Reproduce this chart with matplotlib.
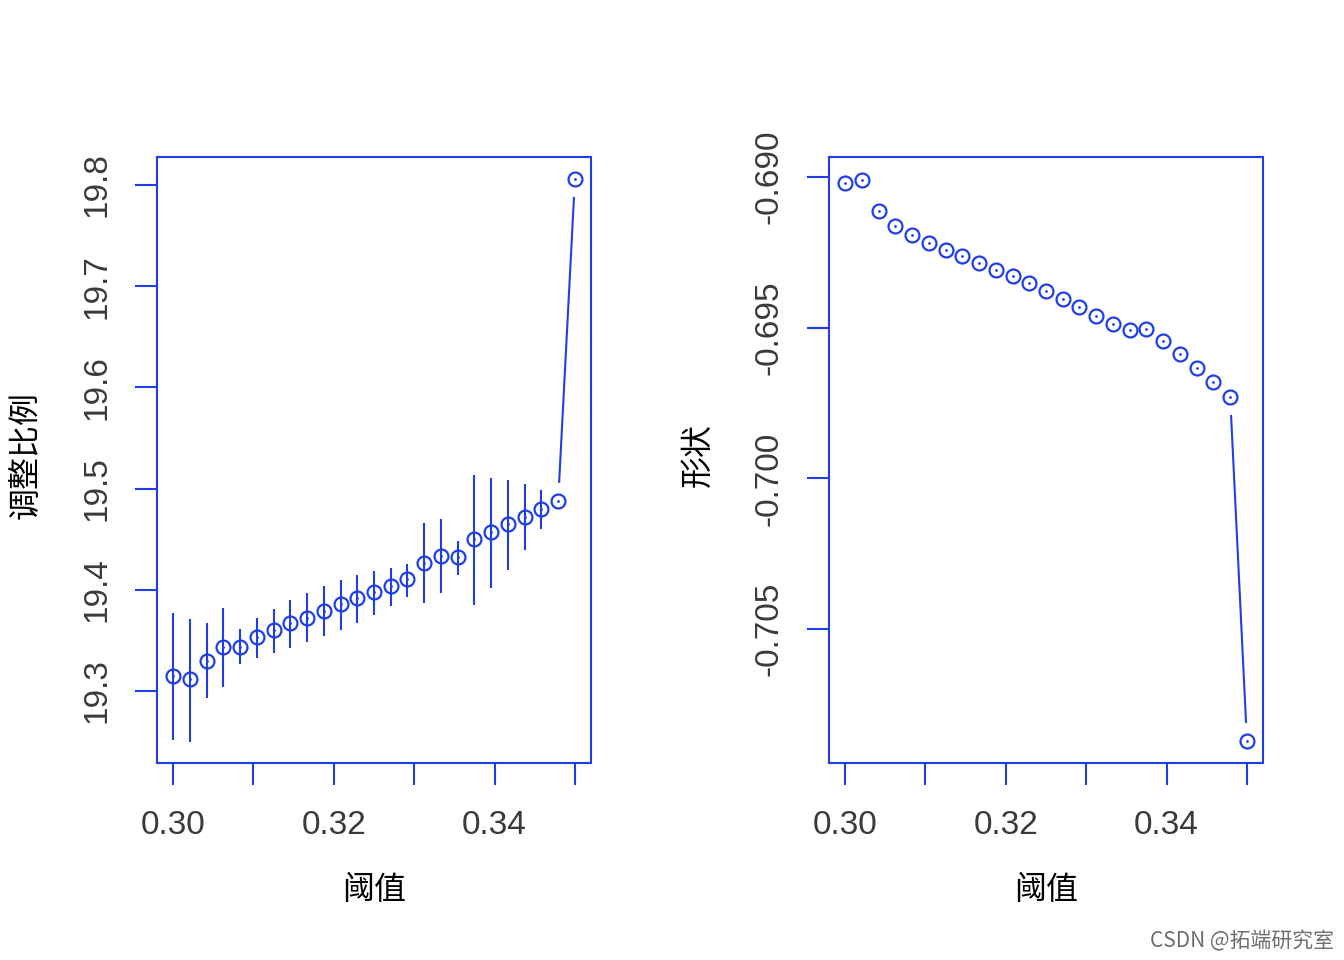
import numpy as np
import matplotlib
matplotlib.use("Agg")
import matplotlib.pyplot as plt

# thresholds: 25 values from 0.30 to 0.35
threshold = np.linspace(0.30, 0.35, 25)

# adjusted scale (调整比例) with confidence bounds
scale = [19.315, 19.312, 19.330, 19.344, 19.344, 19.353, 19.360, 19.367, 19.372,
         19.379, 19.386, 19.392, 19.398, 19.404, 19.411, 19.427, 19.433, 19.432,
         19.450, 19.457, 19.465, 19.472, 19.480, 19.488, 19.806]
scale_low = [19.252, 19.250, 19.293, 19.304, 19.327, 19.333, 19.338, 19.343, 19.348,
             19.354, 19.360, 19.367, 19.375, 19.384, 19.393, 19.387, 19.397, 19.415,
             19.385, 19.402, 19.420, 19.439, 19.460, np.nan, np.nan]
scale_high = [19.377, 19.371, 19.367, 19.382, 19.361, 19.372, 19.381, 19.390, 19.397,
              19.404, 19.410, 19.415, 19.419, 19.422, 19.426, 19.466, 19.470, 19.448,
              19.513, 19.511, 19.509, 19.505, 19.499, np.nan, np.nan]

# shape (形状)
shape = [-0.69019, -0.69010, -0.69112, -0.69163, -0.69192, -0.69219, -0.69241,
         -0.69264, -0.69285, -0.69309, -0.69328, -0.69352, -0.69378, -0.69405,
         -0.69430, -0.69460, -0.69487, -0.69508, -0.69504, -0.69543, -0.69586,
         -0.69634, -0.69680, -0.69730, -0.70871]

blue = "#1f3ee6"
tick_col = "#3a3a3a"
cjk = ["Noto Sans CJK SC", "DejaVu Sans"]

plt.rcParams["font.family"] = ["Liberation Sans", "DejaVu Sans"]

fig = plt.figure(figsize=(13.44, 9.6), dpi=100)
fig.patch.set_facecolor("white")


def gap_lines(ax, x, y, gap=19):
    # R style type="b": connect points but leave a gap round each one
    pts = ax.transData.transform(np.column_stack([x, y]))
    inv = ax.transData.inverted()
    for p1, p2 in zip(pts[:-1], pts[1:]):
        d = p2 - p1
        L = np.hypot(*d)
        if L <= 2 * gap:
            continue
        a = inv.transform(p1 + d / L * gap)
        b = inv.transform(p2 - d / L * gap)
        ax.plot([a[0], b[0]], [a[1], b[1]], color=blue, lw=1.5, zorder=2)


def style(ax, xlab, ylab, yticks, yfmt):
    ax.set_xlim(0.298, 0.352)
    for s in ax.spines.values():
        s.set_color(blue)
        s.set_linewidth(1.5)
    ax.set_xticks([0.30, 0.31, 0.32, 0.33, 0.34, 0.35])
    ax.set_xticklabels(["0.30", "", "0.32", "", "0.34", ""])
    ax.set_yticks(yticks)
    ax.set_yticklabels([yfmt % v for v in yticks], rotation=90, va="center")
    ax.tick_params(direction="out", length=16, width=1.5, color=blue,
                   labelsize=24, labelcolor=tick_col)
    ax.tick_params(axis="x", pad=18)
    ax.tick_params(axis="y", pad=16)
    ax.set_xlabel(xlab, family=cjk, fontsize=23, color="black", va="center")
    ax.set_ylabel(ylab, family=cjk, fontsize=23, color="black", va="center")
    ax.xaxis.set_label_coords(0.5, -0.21)
    ax.yaxis.set_label_coords(-0.304, 0.508)


# left panel
ax1 = fig.add_axes([157 / 1344, 1 - 763 / 960, 434 / 1344, 606 / 960])
ax1.set_ylim(19.2289, 19.8277)
style(ax1, "阈值", "调整比例", [19.3, 19.4, 19.5, 19.6, 19.7, 19.8], "%.1f")
ax1.vlines(threshold, scale_low, scale_high, color=blue, lw=1.5, zorder=2)
ax1.plot(threshold, scale, "o", ms=10, mfc="none", mec=blue, mew=1.6, zorder=3)
ax1.plot(threshold, scale, ".", ms=2, color=blue, zorder=3)
gap_lines(ax1, threshold, scale)

# right panel
ax2 = fig.add_axes([829 / 1344, 1 - 763 / 960, 434 / 1344, 606 / 960])
ax2.set_ylim(-0.70944, -0.68934)
style(ax2, "阈值", "形状", [-0.705, -0.700, -0.695, -0.690], "%.3f")
ax2.plot(threshold, shape, "o", ms=10, mfc="none", mec=blue, mew=1.6, zorder=3)
ax2.plot(threshold, shape, ".", ms=2, color=blue, zorder=3)
gap_lines(ax2, threshold, shape)

fig.text(0.9925, 0.019, "CSDN @拓端研究室", family=cjk, fontsize=15,
         color="#6e6e6e", ha="right", va="center")

fig.savefig("out.png", dpi=100, facecolor="white")
